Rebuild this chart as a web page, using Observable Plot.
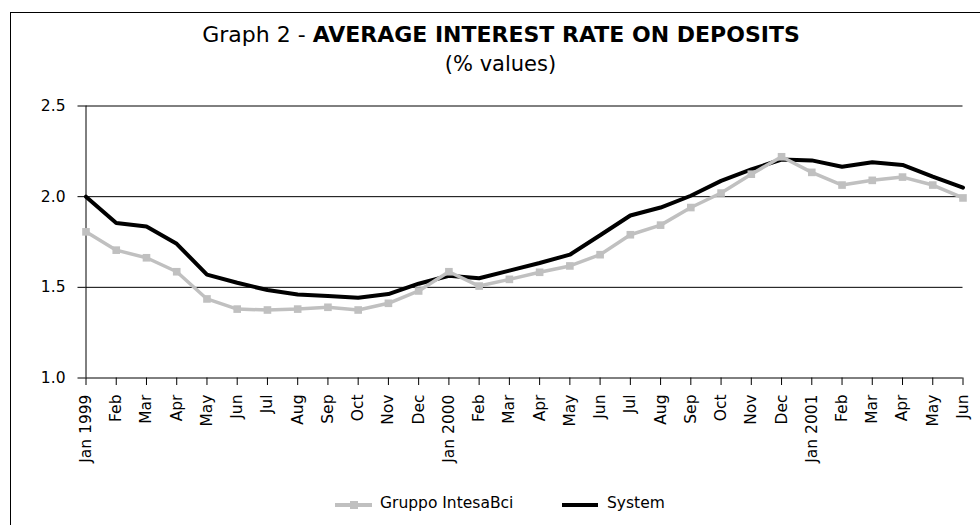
<!DOCTYPE html>
<html>
<head>
<meta charset="utf-8">
<script src="https://cdn.jsdelivr.net/npm/d3@7"></script>
<script src="https://cdn.jsdelivr.net/npm/@observablehq/plot@0.6"></script>
<style>
  html, body { margin: 0; padding: 0; background: #fff; width: 980px; height: 525px; overflow: hidden; }
  body { position: relative; font-family: "DejaVu Sans", sans-serif; color: #000; }
  .frame { position: absolute; left: 10px; top: 12px; width: 1000px; height: 600px; border: 1px solid #000; box-sizing: border-box; }
  .title { position: absolute; left: 0; width: 1002px; text-align: center; top: 24.4px; font-size: 22px; line-height: 22px; white-space: nowrap; }
  .subtitle { position: absolute; left: 0; width: 1001px; text-align: center; top: 53.9px; font-size: 21px; line-height: 21px; white-space: nowrap; }
  #chart { position: absolute; left: 0; top: 90px; }
  .leg { position: absolute; font-size: 15.5px; line-height: 15.5px; top: 496.2px; white-space: nowrap; }
  .legsw { position: absolute; top: 498px; }
</style>
</head>
<body>
<div class="frame"></div>
<div class="title">Graph 2 - <b>AVERAGE INTEREST RATE ON DEPOSITS</b></div>
<div class="subtitle">(% values)</div>
<div id="chart"></div>
<svg class="legsw" style="left:333px" width="42" height="14"><line x1="2" x2="39" y1="7" y2="7" stroke="#c0c0c0" stroke-width="4"/><rect x="17" y="3" width="8" height="8" fill="#c0c0c0"/></svg>
<div class="leg" style="left:380px">Gruppo IntesaBci</div>
<svg class="legsw" style="left:560px" width="42" height="14"><line x1="2" x2="38" y1="7" y2="7" stroke="#000" stroke-width="4"/></svg>
<div class="leg" style="left:607px">System</div>
<script>
const monthLabels = ["Jan 1999","Feb","Mar","Apr","May","Jun","Jul","Aug","Sep","Oct","Nov","Dec",
  "Jan 2000","Feb","Mar","Apr","May","Jun","Jul","Aug","Sep","Oct","Nov","Dec",
  "Jan 2001","Feb","Mar","Apr","May","Jun"];
const gruppoValues = [1.806,1.705,1.663,1.586,1.436,1.380,1.375,1.380,1.390,1.375,1.412,1.480,
  1.586,1.507,1.544,1.583,1.618,1.680,1.790,1.843,1.940,2.020,2.124,2.220,
  2.134,2.064,2.090,2.108,2.064,1.993];
const systemValues = [2.000,1.855,1.835,1.740,1.570,1.525,1.485,1.460,1.452,1.443,1.463,1.520,
  1.564,1.550,1.592,1.634,1.680,1.787,1.896,1.940,2.005,2.087,2.150,2.205,
  2.200,2.165,2.190,2.175,2.110,2.050];
const yTicks = [1.0, 1.5, 2.0, 2.5];
const gridValues = [1.5, 2.0, 2.5];

const idx = monthLabels.map((_, i) => i);
const gruppo = idx.map(i => ({i, v: gruppoValues[i]}));
const system = idx.map(i => ({i, v: systemValues[i]}));

const chart = Plot.plot({
  width: 980,
  height: 388,
  marginLeft: 85.5,
  marginRight: 17.5,
  marginTop: 15.5,
  marginBottom: 100.5,
  style: {fontFamily: "DejaVu Sans, sans-serif", fontSize: "15.5px", background: "transparent", color: "#000", overflow: "visible"},
  x: {type: "linear", domain: [0, monthLabels.length - 1]},
  y: {domain: [1.0, 2.5]},
  marks: [
    Plot.ruleY(gridValues, {stroke: "#000", strokeWidth: 1}),
    Plot.ruleY([1.0], {stroke: "#000", strokeWidth: 1}),
    Plot.ruleX([0], {y1: 1.0, y2: 2.5, stroke: "#000", strokeWidth: 1}),
    Plot.axisY({ticks: yTicks, tickFormat: d3.format(".1f"), tickSize: 8, tickPadding: 12.5, label: null, fontSize: 15.5}),
    Plot.axisX({ticks: idx, tickFormat: i => monthLabels[i], tickRotate: -90, tickSize: 7.5, tickPadding: 9, label: null, fontSize: 15.5}),
    Plot.line(system, {x: "i", y: "v", stroke: "#000", strokeWidth: 4, strokeLinejoin: "miter"}),
    Plot.line(gruppo, {x: "i", y: "v", stroke: "#c0c0c0", strokeWidth: 3.5, strokeLinejoin: "miter"}),
    Plot.dot(gruppo, {x: "i", y: "v", symbol: "square", r: 4.3, fill: "#c0c0c0", stroke: "none"})
  ]
});
document.getElementById("chart").appendChild(chart);
</script>
</body>
</html>
